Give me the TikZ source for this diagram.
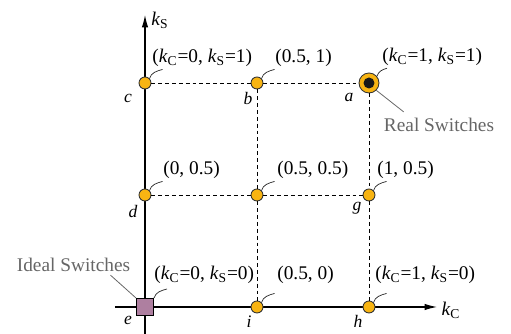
\documentclass[tikz,border=0pt]{standalone}
\usepackage{fontspec}
\setmainfont{Liberation Serif}
\usetikzlibrary{arrows.meta}

\definecolor{switchyellow}{HTML}{F8B412}
\definecolor{idealpurple}{HTML}{AE7FA0}
\definecolor{notegray}{HTML}{666666}

\newcommand{\kC}{\textit{k}\textsubscript{C}}
\newcommand{\kS}{\textit{k}\textsubscript{S}}

\tikzset{
  axis/.style={line width=0.6pt, -{Latex[length=7pt,width=3.6pt]}},
  grid line/.style={line width=0.5pt, dash pattern=on 2.2pt off 1.7pt},
  op point/.style={circle, draw=black!80, line width=0.5pt, fill=switchyellow, inner sep=0pt, minimum size=0.24cm},
  real point/.style={circle, draw=black!80, line width=0.5pt, fill=switchyellow, inner sep=0pt, minimum size=0.4cm},
  ideal point/.style={rectangle, draw=black, line width=0.6pt, fill=idealpurple, inner sep=0pt, minimum size=0.34cm},
  coord/.style={inner sep=0pt, anchor=base west},
  letter/.style={inner sep=0pt, font=\itshape},
  squiggle/.style={line width=0.4pt, black!85},
  note/.style={text=notegray, inner sep=0pt},
  note line/.style={line width=0.45pt, notegray},
}

\begin{document}
\begin{tikzpicture}[x=0.02cm, y=0.02cm, font=\fontsize{11}{13}\selectfont]
    \useasboundingbox (-145,-27) rectangle (366,307);

    % axes
    \coordinate (ybot) at (0,-27);
    \coordinate (ytop) at (0,292);
    \coordinate (xleft) at (-30,0);
    \coordinate (xright) at (292,0);
    \draw[axis] (ybot) -- (ytop);
    \draw[axis] (xleft) -- (xright);
    \node (ks) at (15,287) {\kS};
    \node (kc) at (306,-3) {\kC};

    % operating points
    \node[ideal point] (e) at (0,0) {};
    \node[op point] (i) at (112,0) {};
    \node[op point] (h) at (224,0) {};
    \node[op point] (d) at (0,112) {};
    \node[op point] (m) at (112,112) {};
    \node[op point] (g) at (224,112) {};
    \node[op point] (c) at (0,224) {};
    \node[op point] (b) at (112,224) {};
    \node[real point] (a) at (224,224) {};
    \node[circle, fill=black!90, inner sep=0pt, minimum size=0.22cm] (a-dot) at (a) {};

    % dashed grid
    \draw[grid line] (c) -- (b);
    \draw[grid line] (b) -- (a);
    \draw[grid line] (d) -- (m);
    \draw[grid line] (m) -- (g);
    \draw[grid line] (b) -- (m);
    \draw[grid line] (m) -- (i);
    \draw[grid line] (a) -- (g);
    \draw[grid line] (g) -- (h);

    % point letters
    \node[letter] (c-name) at ([shift={(-17,-15)}]c.center) {c};
    \node[letter] (b-name) at ([shift={(-9,-15)}]b.center) {b};
    \node[letter] (a-name) at ([shift={(-20,-14)}]a.center) {a};
    \node[letter] (d-name) at ([shift={(-12,-16)}]d.center) {d};
    \node[letter] (g-name) at ([shift={(-12,-13)}]g.center) {g};
    \node[letter] (e-name) at ([shift={(-17,-13)}]e.center) {e};
    \node[letter] (i-name) at ([shift={(-8,-15)}]i.center) {i};
    \node[letter] (h-name) at ([shift={(-11,-14)}]h.center) {h};

    % coordinate labels
    \node[coord] (c-val) at ([shift={(7,20)}]c.center) {(\kC=0, \kS=1)};
    \node[coord] (b-val) at ([shift={(18,20)}]b.center) {(0.5, 1)};
    \node[coord] (a-val) at ([shift={(13,21)}]a.center) {(\kC=1, \kS=1)};
    \node[coord] (d-val) at ([shift={(18,20)}]d.center) {(0, 0.5)};
    \node[coord] (m-val) at ([shift={(20,20)}]m.center) {(0.5, 0.5)};
    \node[coord] (g-val) at ([shift={(8,20)}]g.center) {(1, 0.5)};
    \node[coord] (e-val) at ([shift={(9,27)}]e.center) {(\kC=0, \kS=0)};
    \node[coord] (i-val) at ([shift={(20,27)}]i.center) {(0.5, 0)};
    \node[coord] (h-val) at ([shift={(6,27)}]h.center) {(\kC=1, \kS=0)};

    % squiggles
    \foreach \pt in {c,b,d,m,g,e,i,h}
        \draw[squiggle] (\pt.45) .. controls +(75:6) and +(195:6) .. ++(13,9);
    \draw[squiggle] (a.40) .. controls +(75:5) and +(195:5) .. ++(10,8);

    % notes
    \node[note] (real) at (294,182) {Real Switches};
    \node[note] (ideal) at (-71.5,42) {Ideal Switches};
    \draw[note line] (a.-45) -- ([shift={(20,6)}]real.north west);
    \draw[note line] ([shift={(-20,-3)}]ideal.south east) -- (e.north west);
\end{tikzpicture}
\end{document}
